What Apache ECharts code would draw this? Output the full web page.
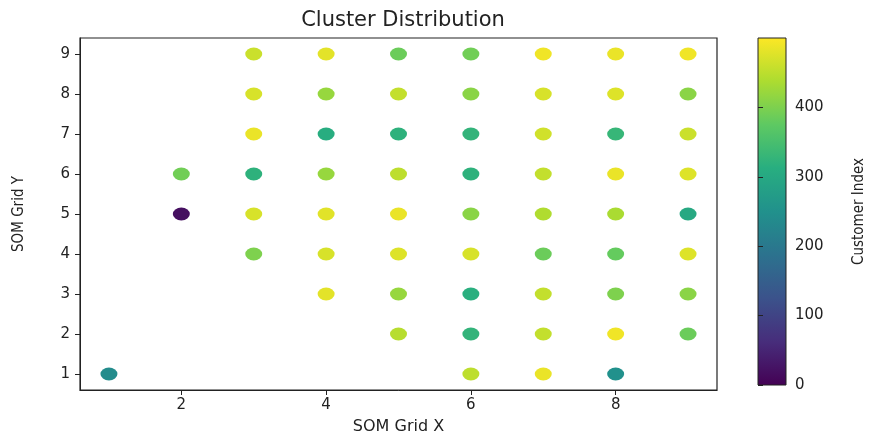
<!DOCTYPE html>
<html><head><meta charset="utf-8">
<script src="https://cdn.jsdelivr.net/npm/echarts@6/dist/echarts.min.js"></script>
<style>html,body{margin:0;padding:0;background:#fff}#c{width:872px;height:437px}</style>
</head><body><div id="c"></div>
<script>
// SOM grid X, grid Y, customer index (colour value)
const gridX = [1,2,2, 3,3,3,3,3,3, 4,4,4,4,4,4,4, 5,5,5,5,5,5,5,5, 6,6,6,6,6,6,6,6,6, 7,7,7,7,7,7,7,7,7, 8,8,8,8,8,8,8,8,8, 9,9,9,9,9,9,9,9];
const gridY = [1,5,6, 9,8,7,6,5,4, 9,8,7,6,5,4,3, 9,8,7,6,5,4,3,2, 9,8,7,6,5,4,3,2,1, 9,8,7,6,5,4,3,2,1, 9,8,7,6,5,4,3,2,1, 9,8,7,6,5,4,3,2];
const customerIndex = [240,20,390, 460,470,485,320,470,400, 480,420,310,420,478,470,480, 385,455,320,450,485,475,420,445, 390,410,325,320,410,470,315,325,450, 490,470,465,455,440,385,455,455,485, 485,475,330,485,435,380,400,490,250, 490,410,460,475,300,475,410,385];
const xTicks = [2,4,6,8];
const yTicks = [1,2,3,4,5,6,7,8,9];
const cbarTicks = [0,100,200,300,400];
const viridis = ['#440154','#472d7b','#3b528b','#2c728e','#21918c','#28ae80','#5ec962','#addc30','#fde725'];

const data = gridX.map((x,i)=>[x, gridY[i], customerIndex[i]]);
const chart = echarts.init(document.getElementById('c'));
const tickFont = {fontFamily:'DejaVu Sans', fontSize:15, color:'#222'};
chart.setOption({
  animation:false,
  title:{text:'Cluster Distribution', left:398, textAlign:'center', top:5,
    textStyle:{fontFamily:'DejaVu Sans', fontSize:21, fontWeight:'normal', color:'#222'}},
  grid:[
    {left:80, right:155, top:38, bottom:47, show:true, borderColor:'#222', borderWidth:1.2,
     outerBoundsMode:'none', containLabel:false},
    {left:758, width:28, top:38, bottom:52, show:true, borderColor:'#222', borderWidth:1,
     outerBoundsMode:'none', containLabel:false,
     backgroundColor:{type:'linear', x:0, y:1, x2:0, y2:0,
       colorStops: viridis.map((c,i)=>({offset:i/(viridis.length-1), color:c}))}}
  ],
  xAxis:[
    {gridIndex:0, type:'value', min:0.6, max:9.4, splitLine:{show:false},
     name:'SOM Grid X', nameLocation:'middle', nameGap:29,
     nameTextStyle:{fontFamily:'DejaVu Sans', fontSize:16, color:'#222'},
     axisLine:{show:true, lineStyle:{color:'#222'}},
     axisTick:{show:true, customValues:xTicks, length:5, lineStyle:{color:'#222'}},
     axisLabel:Object.assign({customValues:xTicks, margin:8}, tickFont)},
    {gridIndex:1, type:'value', show:false, min:0, max:1}
  ],
  yAxis:[
    {gridIndex:0, type:'value', min:0.6, max:9.4, splitLine:{show:false},
     name:'SOM Grid Y', nameLocation:'middle', nameGap:53, nameRotate:90,
     nameTextStyle:{fontFamily:'Liberation Sans Narrow, DejaVu Sans Condensed, sans-serif', fontSize:15, color:'#222'},
     axisLine:{show:true, lineStyle:{color:'#222'}},
     axisTick:{show:true, customValues:yTicks, length:5, lineStyle:{color:'#222'}},
     axisLabel:Object.assign({customValues:yTicks, margin:10}, tickFont)},
    {gridIndex:1, type:'value', position:'right', min:0, max:500, interval:100, splitLine:{show:false},
     name:'Customer Index', nameLocation:'middle', nameGap:66, nameRotate:90,
     nameTextStyle:{fontFamily:'Liberation Sans Narrow, DejaVu Sans Condensed, sans-serif', fontSize:15, color:'#222'},
     axisLine:{show:false},
     axisTick:{show:true, customValues:cbarTicks, length:5, lineStyle:{color:'#222'}},
     axisLabel:Object.assign({customValues:cbarTicks, margin:9}, tickFont)}
  ],
  visualMap:{show:false, type:'continuous', min:0, max:500, dimension:2, seriesIndex:0,
    inRange:{color:viridis}},
  series:[{
    type:'scatter', xAxisIndex:0, yAxisIndex:0, data:data,
    symbol:'circle', symbolSize:[17,13], itemStyle:{opacity:1}
  }]
});
</script></body></html>
